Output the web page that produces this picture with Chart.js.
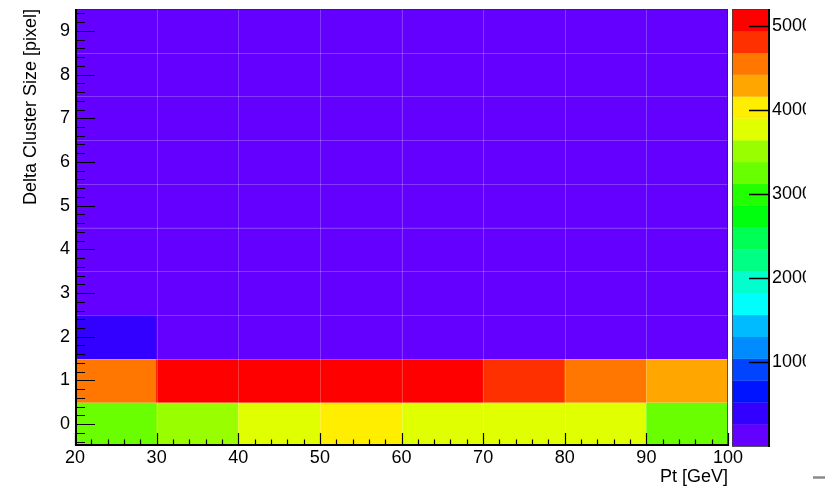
<!DOCTYPE html>
<html>
<head>
<meta charset="utf-8">
<script src="https://cdn.jsdelivr.net/npm/chart.js@4.4.1/dist/chart.umd.min.js"></script>
<style>
  html, body { margin: 0; padding: 0; background: #ffffff; }
  canvas { display: block; }
</style>
</head>
<body>
<canvas id="c" width="825" height="488"></canvas>
<script>
// Pt bin edges [GeV]
const ptEdges = [20, 30, 40, 50, 60, 70, 80, 90, 100];
// Delta cluster size bin centres [pixel]
const sizeBins = [0, 1, 2, 3, 4, 5, 6, 7, 8, 9];
// Entries per bin: one row per cluster-size bin, one column per Pt bin
const entries = [
  [3250, 3520, 3800, 3980, 3850, 3760, 3700, 3290],
  [4530, 5010, 5120, 5200, 5050, 4800, 4560, 4300],
  [ 380,  170,  130,  110,  100,   90,   80,   70],
  [  60,   35,   25,   20,   18,   15,   12,   10],
  [  20,   12,    9,    8,    7,    6,    5,    5],
  [   9,    6,    5,    4,    4,    3,    3,    3],
  [   5,    3,    3,    2,    2,    2,    2,    2],
  [   3,    2,    2,    1,    1,    1,    1,    1],
  [   2,    1,    1,    1,    1,    1,    1,    1],
  [   1,    1,    1,    1,    1,    1,    1,    1]
];
// Axis tick labels
const ptTicks = [20, 30, 40, 50, 60, 70, 80, 90, 100];
const sizeTicks = [0, 1, 2, 3, 4, 5, 6, 7, 8, 9];
const zTicks = [1000, 2000, 3000, 4000, 5000];
// Colour scale range and number of contour levels
const zMin = 0;
const zMax = 5200;
const nContours = 20;
// Rainbow palette, one colour per contour level (low to high)
const palette = [
  '#6300ff', '#3300ff', '#0014ff', '#0044ff', '#008bff',
  '#00bbff', '#00fffc', '#00ffcc', '#00ff85', '#00ff55',
  '#00ff0e', '#22ff00', '#69ff00', '#99ff00', '#e0ff00',
  '#ffee00', '#ffa700', '#ff7700', '#ff3000', '#ff0000'
];

const FONT = "'Liberation Sans', Arial, Helvetica, sans-serif";

function levelOf(v) {
  const k = Math.floor((v - zMin) / (zMax - zMin) * nContours);
  return Math.max(0, Math.min(nContours - 1, k));
}

// One floating horizontal bar per histogram cell
const cells = [];
sizeBins.forEach((s, r) => {
  for (let c = 0; c < ptEdges.length - 1; c++) {
    cells.push({ x: [ptEdges[c], ptEdges[c + 1]], y: s, v: entries[r][c] });
  }
});

const histPlugin = {
  id: 'histFrame',
  afterDatasetsDraw(chart) {
    const { ctx, chartArea: a, scales } = chart;
    const xs = scales.x, ys = scales.y, zs = scales.z;
    ctx.save();

    // faint seams between cells
    ctx.strokeStyle = 'rgba(255,255,255,0.22)';
    ctx.lineWidth = 1;
    ctx.beginPath();
    for (let c = 1; c < ptEdges.length - 1; c++) {
      const px = Math.round(xs.getPixelForValue(ptEdges[c])) + 0.5;
      ctx.moveTo(px, a.top); ctx.lineTo(px, a.bottom);
    }
    for (let r = 0; r < sizeBins.length - 1; r++) {
      const py = Math.round(ys.getPixelForValue(sizeBins[r] + 0.5)) + 0.5;
      ctx.moveTo(a.left, py); ctx.lineTo(a.right, py);
    }
    ctx.stroke();

    // frame: top and right thin
    ctx.strokeStyle = 'rgba(40,40,40,0.7)';
    ctx.lineWidth = 1;
    ctx.beginPath();
    ctx.moveTo(a.left, a.top + 0.5); ctx.lineTo(a.right, a.top + 0.5);
    ctx.moveTo(a.right - 0.5, a.top); ctx.lineTo(a.right - 0.5, a.bottom);
    ctx.stroke();

    // axes: left and bottom
    ctx.strokeStyle = '#000';
    ctx.lineWidth = 2;
    ctx.beginPath();
    ctx.moveTo(a.left + 1, a.top); ctx.lineTo(a.left + 1, a.bottom);
    ctx.moveTo(a.left, a.bottom - 1); ctx.lineTo(a.right, a.bottom - 1);
    ctx.stroke();

    // inward tick marks
    ctx.lineWidth = 1.2;
    ctx.beginPath();
    for (let i = 0; i <= 40; i++) {
      const v = ptTicks[0] + i * 2;
      const px = Math.round(xs.getPixelForValue(v)) + 0.5;
      const len = (i % 5 === 0) ? 13 : 6.5;
      ctx.moveTo(px, a.bottom); ctx.lineTo(px, a.bottom - len);
    }
    for (let i = 0; i <= 49; i++) {
      const v = -0.4 + i * 0.2;
      const py = Math.round(ys.getPixelForValue(v)) + 0.5;
      const major = Math.abs(v - Math.round(v)) < 1e-6;
      const len = major ? 20 : 10;
      ctx.moveTo(a.left, py); ctx.lineTo(a.left + len, py);
    }
    ctx.stroke();

    // colour bar
    const bx0 = a.right + 4, bx1 = a.right + 41;
    const step = (zMax - zMin) / nContours;
    for (let k = 0; k < nContours; k++) {
      const y0 = zs.getPixelForValue(zMin + k * step);
      const y1 = zs.getPixelForValue(zMin + (k + 1) * step);
      ctx.fillStyle = palette[k];
      ctx.fillRect(bx0, y1, bx1 - bx0, y0 - y1 + 0.3);
    }
    ctx.strokeStyle = 'rgba(60,60,60,0.8)';
    ctx.lineWidth = 1;
    ctx.strokeRect(bx0 + 0.5, a.top + 0.5, bx1 - bx0 - 1, a.bottom - a.top);
    ctx.strokeStyle = '#000';
    ctx.lineWidth = 2;
    ctx.beginPath();
    ctx.moveTo(bx1, a.top); ctx.lineTo(bx1, a.bottom + 1);
    ctx.stroke();

    // colour bar ticks and labels (the label column is cut at the page edge)
    ctx.lineWidth = 1.5;
    ctx.beginPath();
    zTicks.forEach(t => {
      const py = Math.round(zs.getPixelForValue(t)) + 0.5;
      ctx.moveTo(bx1, py); ctx.lineTo(bx1 - 20, py);
    });
    ctx.stroke();
    ctx.save();
    ctx.beginPath();
    ctx.rect(0, 0, 806, chart.height);
    ctx.clip();
    ctx.fillStyle = '#000';
    ctx.font = '18px ' + FONT;
    ctx.textAlign = 'left';
    ctx.textBaseline = 'middle';
    zTicks.forEach(t => {
      ctx.fillText(String(t), bx1 + 3, zs.getPixelForValue(t));
    });
    ctx.restore();

    // small grey dash at the lower right corner
    ctx.strokeStyle = '#8a8a8a';
    ctx.lineWidth = 2.5;
    ctx.beginPath();
    ctx.moveTo(813, 477.5); ctx.lineTo(825, 477.5);
    ctx.stroke();

    ctx.restore();
  }
};

new Chart(document.getElementById('c'), {
  type: 'bar',
  data: {
    datasets: [{
      data: cells,
      backgroundColor: (c) => c.raw ? palette[levelOf(c.raw.v)] : palette[0],
      borderWidth: 0,
      barPercentage: 1,
      categoryPercentage: 1,
      grouped: false
    }]
  },
  options: {
    indexAxis: 'y',
    responsive: false,
    devicePixelRatio: 1,
    animation: false,
    events: [],
    layout: { padding: { top: 9, right: 0, bottom: 0, left: 0 } },
    plugins: { legend: { display: false }, tooltip: { enabled: false } },
    scales: {
      x: {
        type: 'linear',
        position: 'bottom',
        offset: false,
        min: ptEdges[0],
        max: ptEdges[ptEdges.length - 1],
        grid: { display: false, drawTicks: false, offset: false },
        border: { display: false },
        ticks: {
          color: '#000', padding: 1, maxRotation: 0, autoSkip: false,
          font: { family: FONT, size: 18 }
        },
        title: {
          display: true, text: 'Pt [GeV]', align: 'end', color: '#000',
          padding: { top: 0, bottom: 0 },
          font: { family: FONT, size: 18 }
        },
        afterBuildTicks: (s) => { s.ticks = ptTicks.map(v => ({ value: v })); },
        afterFit: (s) => { s.height = 42; s.paddingLeft = 0; s.paddingRight = 0; }
      },
      y: {
        type: 'linear',
        position: 'left',
        offset: false,
        min: -0.5,
        max: 9.5,
        grid: { display: false, drawTicks: false, offset: false },
        border: { display: false },
        ticks: {
          color: '#000', padding: 5, autoSkip: false,
          font: { family: FONT, size: 18 }
        },
        title: {
          display: true, text: 'Delta Cluster Size [pixel]', align: 'end', color: '#000',
          padding: { top: 20, bottom: 0 },
          font: { family: FONT, size: 18 }
        },
        afterBuildTicks: (s) => { s.ticks = sizeTicks.map(v => ({ value: v })); },
        afterFit: (s) => { s.width = 75; s.paddingTop = 0; s.paddingBottom = 0; }
      },
      z: {
        type: 'linear',
        position: 'right',
        axis: 'y',
        offset: false,
        min: zMin,
        max: zMax,
        grid: { display: false, drawTicks: false, offset: false },
        border: { display: false },
        ticks: { display: false },
        afterFit: (s) => { s.width = 97; s.paddingTop = 0; s.paddingBottom = 0; }
      }
    }
  },
  plugins: [histPlugin]
});
</script>
</body>
</html>
